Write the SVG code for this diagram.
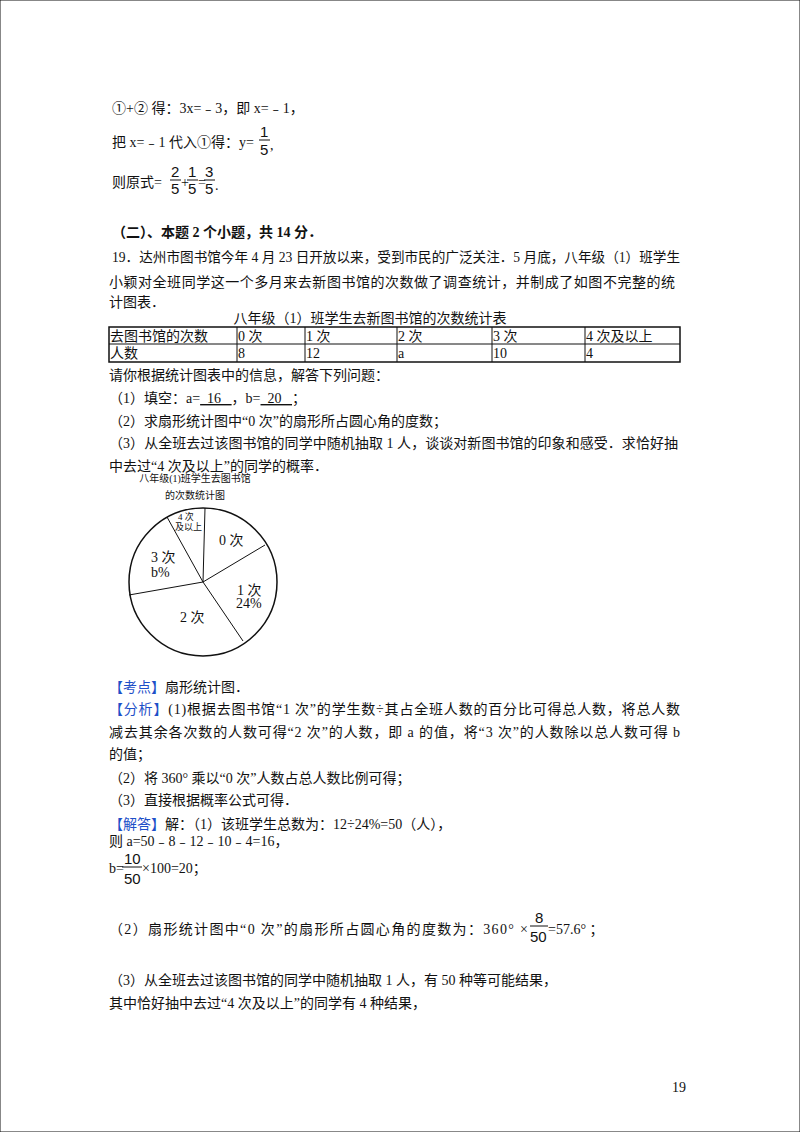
<svg xmlns="http://www.w3.org/2000/svg" width="800" height="1132" viewBox="0 0 800 1132">
<style>
text{font-family:"Liberation Serif","Noto Sans CJK SC",serif;font-size:14px;fill:#111}
.f{font-family:"Liberation Sans","Noto Sans CJK SC",sans-serif;font-size:15px}
.b{font-weight:bold}
.k{fill:#1e50c8}
.s{font-size:9px}
.p{font-size:10px}
line,rect,circle{stroke:#111;fill:none}
</style>
<rect width="800" height="1132" fill="#fff" stroke="none"/>
<g id="math">
<text x="112" y="113">①+② 得：3x=﹣3，即 x=﹣1，</text>
<text x="112" y="147">把 x=﹣1 代入①得：y=</text>
<text class="f" x="260" y="137">1</text><line x1="259" y1="140" x2="270" y2="140"/><text class="f" x="260" y="155">5</text><text x="270" y="150">,</text>
<text x="112" y="187">则原式=</text>
<text class="f" x="171" y="177">2</text><line x1="170" y1="180" x2="181" y2="180"/><text class="f" x="171" y="194">5</text><text x="181" y="187" font-size="10">+</text>
<text class="f" x="188" y="177">1</text><line x1="187" y1="180" x2="198" y2="180"/><text class="f" x="188" y="194">5</text><text x="198" y="187" font-size="10">=</text>
<text class="f" x="205" y="177">3</text><line x1="204" y1="180" x2="215" y2="180"/><text class="f" x="205" y="194">5</text><text x="215" y="190">.</text>
</g>
<g id="q19">
<text class="b" x="112" y="237">（二）、本题 2 个小题，共 14 分．</text>
<text x="112" y="262" textLength="568" lengthAdjust="spacingAndGlyphs">19．达州市图书馆今年 4 月 23 日开放以来，受到市民的广泛关注．5 月底，八年级（1）班学生</text>
<text x="109" y="287" textLength="566" lengthAdjust="spacing">小颖对全班同学这一个多月来去新图书馆的次数做了调查统计，并制成了如图不完整的统</text>
<text x="109" y="307">计图表．</text>
<text x="370" y="323" text-anchor="middle">八年级（1）班学生去新图书馆的次数统计表</text>
</g>
<g id="table">
<rect x="109" y="327" width="571" height="35" stroke-width="1.5"/>
<line x1="109" y1="344" x2="680" y2="344"/>
<line x1="237" y1="327" x2="237" y2="362"/><line x1="305" y1="327" x2="305" y2="362"/>
<line x1="397" y1="327" x2="397" y2="362"/><line x1="492" y1="327" x2="492" y2="362"/>
<line x1="585" y1="327" x2="585" y2="362"/>
<text x="110" y="341">去图书馆的次数</text><text x="238" y="341">0 次</text><text x="306" y="341">1 次</text><text x="398" y="341">2 次</text><text x="493" y="341">3 次</text><text x="586" y="341">4 次及以上</text>
<text x="110" y="358">人数</text><text x="238" y="358">8</text><text x="306" y="358">12</text><text x="398" y="358">a</text><text x="493" y="358">10</text><text x="586" y="358">4</text>
</g>
<g id="questions">
<text x="109" y="380">请你根据统计图表中的信息，解答下列问题：</text>
<text x="109" y="403" xml:space="preserve">（1）填空：a=<tspan text-decoration="underline">  16   </tspan>，b=<tspan text-decoration="underline">  20   </tspan>；</text>
<text x="109" y="426">（2）求扇形统计图中“0 次”的扇形所占圆心角的度数；</text>
<text x="109" y="448" textLength="569" lengthAdjust="spacing">（3）从全班去过该图书馆的同学中随机抽取 1 人，谈谈对新图书馆的印象和感受．求恰好抽</text>
<text x="109" y="471">中去过“4 次及以上”的同学的概率．</text>
</g>
<g id="pie">
<text class="p" x="195" y="482" text-anchor="middle">八年级(1)班学生去图书馆</text>
<text class="p" x="195" y="499" text-anchor="middle">的次数统计图</text>
<circle cx="203" cy="582" r="74" stroke-width="1.5"/>
<line x1="203" y1="582" x2="205" y2="508"/><line x1="203" y1="582" x2="265" y2="545"/>
<line x1="203" y1="582" x2="243" y2="641"/><line x1="203" y1="582" x2="129" y2="595"/>
<line x1="203" y1="582" x2="167" y2="517"/>
<text x="219" y="545" font-size="11">0 次</text>
<text x="237" y="595" font-size="11">1 次</text><text x="236" y="608" font-size="11">24%</text>
<text x="180" y="622" font-size="11">2 次</text>
<text x="151" y="562" font-size="11">3 次</text><text x="151" y="577" font-size="11">b%</text>
<text class="s" x="178" y="520">4 次</text><text class="s" x="175" y="530">及以上</text>
</g>
<g id="solution">
<text x="109" y="692"><tspan class="k">【考点】</tspan>扇形统计图．</text>
<text x="109" y="714" textLength="571" lengthAdjust="spacing"><tspan class="k">【分析】</tspan>(1)根据去图书馆“1 次”的学生数÷其占全班人数的百分比可得总人数，将总人数</text>
<text x="109" y="737" textLength="571" lengthAdjust="spacing">减去其余各次数的人数可得“2 次”的人数，即 a 的值，将“3 次”的人数除以总人数可得 b</text>
<text x="109" y="759">的值；</text>
<text x="109" y="783">（2）将 360° 乘以“0 次”人数占总人数比例可得；</text>
<text x="109" y="805">（3）直接根据概率公式可得．</text>
<text x="109" y="829"><tspan class="k">【解答】</tspan>解：（1）该班学生总数为：12÷24%=50（人），</text>
<text x="109" y="846">则 a=50﹣8﹣12﹣10﹣4=16，</text>
<text x="109" y="873">b=</text><text class="f" x="124" y="864">10</text><line x1="122" y1="867" x2="142" y2="867"/><text class="f" x="124" y="884">50</text>
<text x="142" y="873">×100=20；</text>
<text x="109" y="934" textLength="419" lengthAdjust="spacing">（2）扇形统计图中“0 次”的扇形所占圆心角的度数为：360° ×</text>
<text class="f" x="535" y="923">8</text><line x1="530" y1="926" x2="548" y2="926"/><text class="f" x="530" y="942">50</text>
<text x="548" y="934">=57.6° ；</text>
<text x="109" y="985">（3）从全班去过该图书馆的同学中随机抽取 1 人，有 50 种等可能结果，</text>
<text x="109" y="1008">其中恰好抽中去过“4 次及以上”的同学有 4 种结果，</text>
<text x="672" y="1092" font-size="11">19</text>
</g>
</svg>
